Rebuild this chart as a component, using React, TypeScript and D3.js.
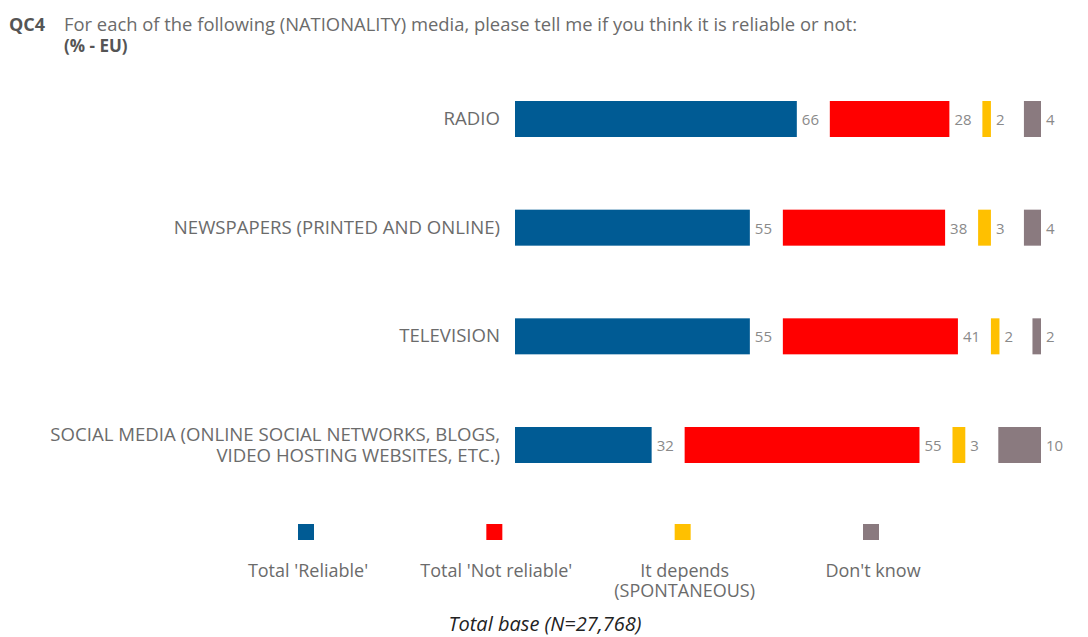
import React from "react";
import * as d3 from "d3";

const categories = [
  ["RADIO"],
  ["NEWSPAPERS (PRINTED AND ONLINE)"],
  ["TELEVISION"],
  ["SOCIAL MEDIA (ONLINE SOCIAL NETWORKS, BLOGS,", "VIDEO HOSTING WEBSITES, ETC.)"],
];
const seriesNames = ["Total 'Reliable'", "Total 'Not reliable'", "It depends|(SPONTANEOUS)", "Don't know"];
const colors = ["#005b94", "#ff0000", "#ffc000", "#8a7a7f"];
const reliable = [66, 55, 55, 32];
const notReliable = [28, 38, 41, 55];
const depends = [2, 3, 2, 3];
const dontKnow = [4, 4, 2, 10];

const W = 1088, H = 637;
const FONT = "'Open Sans', sans-serif";
const TXT = "#6b6b6b";

export default function App() {
  const series = [reliable, notReliable, depends, dontKnow];
  const x = d3.scaleLinear().domain([0, 100]).range([0, 427]);
  const y = d3.scalePoint<number>().domain(d3.range(categories.length)).range([119, 445]);
  const x0 = 515, gap = 33, barH = 36;
  const legendX = d3.scalePoint<number>().domain(d3.range(4)).range([306, 871]);

  return (
    <svg width={W} height={H} style={{ position: "absolute", left: 0, top: 0, fontFamily: FONT }}>
      <rect width={W} height={H} fill="#fff" />
      <text x={9} y={31} fontSize={18} fontWeight={700} fill="#555">QC4</text>
      <text x={64} y={31} fontSize={18} fill={TXT} textLength={793} lengthAdjust="spacingAndGlyphs">For each of the following (NATIONALITY) media, please tell me if you think it is reliable or not:</text>
      <text x={64} y={52} fontSize={17} fontWeight={700} fill="#555">(% - EU)</text>

      {categories.map((lines, i) => {
        const cy = y(i)!;
        let cur = x0;
        const segs = series.map((s, j) => {
          const v = s[i];
          const w = x(v);
          const sx = cur;
          cur += w + gap;
          return (
            <g key={j}>
              <rect x={sx} y={cy - barH / 2} width={w} height={barH} fill={colors[j]} />
              <text x={sx + w + 5} y={cy + 6} fontSize={15} fill="#8a8a8a">{v}</text>
            </g>
          );
        });
        return (
          <g key={i}>
            {lines.map((l, k) => (
              <text key={k} x={500} y={cy + 6 + (k - (lines.length - 1) / 2) * 21} fontSize={18.6} textAnchor="end" fill={TXT}>{l}</text>
            ))}
            {segs}
          </g>
        );
      })}

      {seriesNames.map((n, j) => {
        const cx = legendX(j)!;
        const lines = n.split("|");
        return (
          <g key={j}>
            <rect x={cx - 8} y={524} width={16} height={16} fill={colors[j]} />
            {lines.map((l, k) => (
              <text key={k} x={cx + 2} y={577 + k * 20} fontSize={18} textAnchor="middle" fill={TXT}>{l}</text>
            ))}
          </g>
        );
      })}

      <text x={545} y={631} fontSize={20} fontStyle="italic" textAnchor="middle" fill="#222">Total base (N=27,768)</text>
    </svg>
  );
}
